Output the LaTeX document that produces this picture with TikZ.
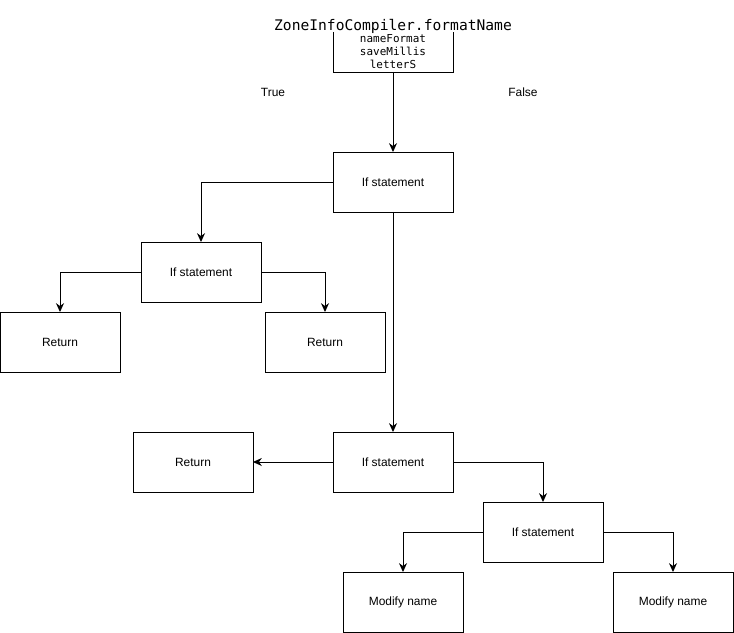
\documentclass[tikz,border=0pt]{standalone}
\usepackage{fontspec}
\setmainfont{Liberation Sans}
\setmonofont{DejaVu Sans Mono}
\usetikzlibrary{positioning, arrows.meta}

\begin{document}
\begin{tikzpicture}[
  block/.style={
    draw,
    line width=0.7pt,
    minimum height=1.5cm,
    minimum width=3cm,
    inner sep=0pt,
    outer sep=0pt,
    align=center,
    font=\fontsize{8.5}{10}\selectfont
  },
  arr/.style={-{Stealth[length=2.2mm, width=2mm, inset=0.7mm]}, line width=0.7pt},
  lbl/.style={font=\fontsize{8.5}{10}\selectfont}
]
\useasboundingbox (0,0) rectangle (18.35,-15.825);

\node[block] at (9.825,-4.55) (if1) {If statement};
\node[block, draw=none, minimum height=1cm, above=2cm of if1, font=\ttfamily\fontsize{7.8}{9.2}\selectfont] (params) {nameFormat\\saveMillis\\letterS};
\node[above=-0.05cm of params, inner sep=0pt, font=\ttfamily\fontsize{10.4}{12}\selectfont] (title) {ZoneInfoCompiler.formatName};
\draw[line width=0.7pt] (params.north west) -- (params.south west) -- (params.south east) -- (params.north east);

\node[block, below left=0.75cm and 1.8cm of if1] (if2) {If statement};
\node[block, below left=0.25cm and 0.525cm of if2] (ret1) {Return};
\node[block, below right=0.25cm and 0.1cm of if2] (ret2) {Return};
\node[block, below=5.5cm of if1] (if3) {If statement};
\node[block, left=2cm of if3] (ret3) {Return};
\node[block, below right=0.25cm and 0.75cm of if3] (if4) {If statement};
\node[block, below left=0.25cm and 0.5cm of if4] (mod1) {Modify name};
\node[block, below right=0.25cm and 0.25cm of if4] (mod2) {Modify name};

\node[lbl] at (6.825,-2.3) (true) {True};
\node[lbl] at (13.075,-2.3) (false) {False};

\draw[arr] (params) -- (if1);
\draw[arr] (if1.west) -| (if2.north);
\draw[arr] (if2.west) -| (ret1.north);
\draw[arr] (if2.east) -| (ret2.north);
\draw[arr] (if1) -- (if3);
\draw[arr] (if3) -- (ret3);
\draw[arr] (if3.east) -| (if4.north);
\draw[arr] (if4.west) -| (mod1.north);
\draw[arr] (if4.east) -| (mod2.north);

\end{tikzpicture}
\end{document}
